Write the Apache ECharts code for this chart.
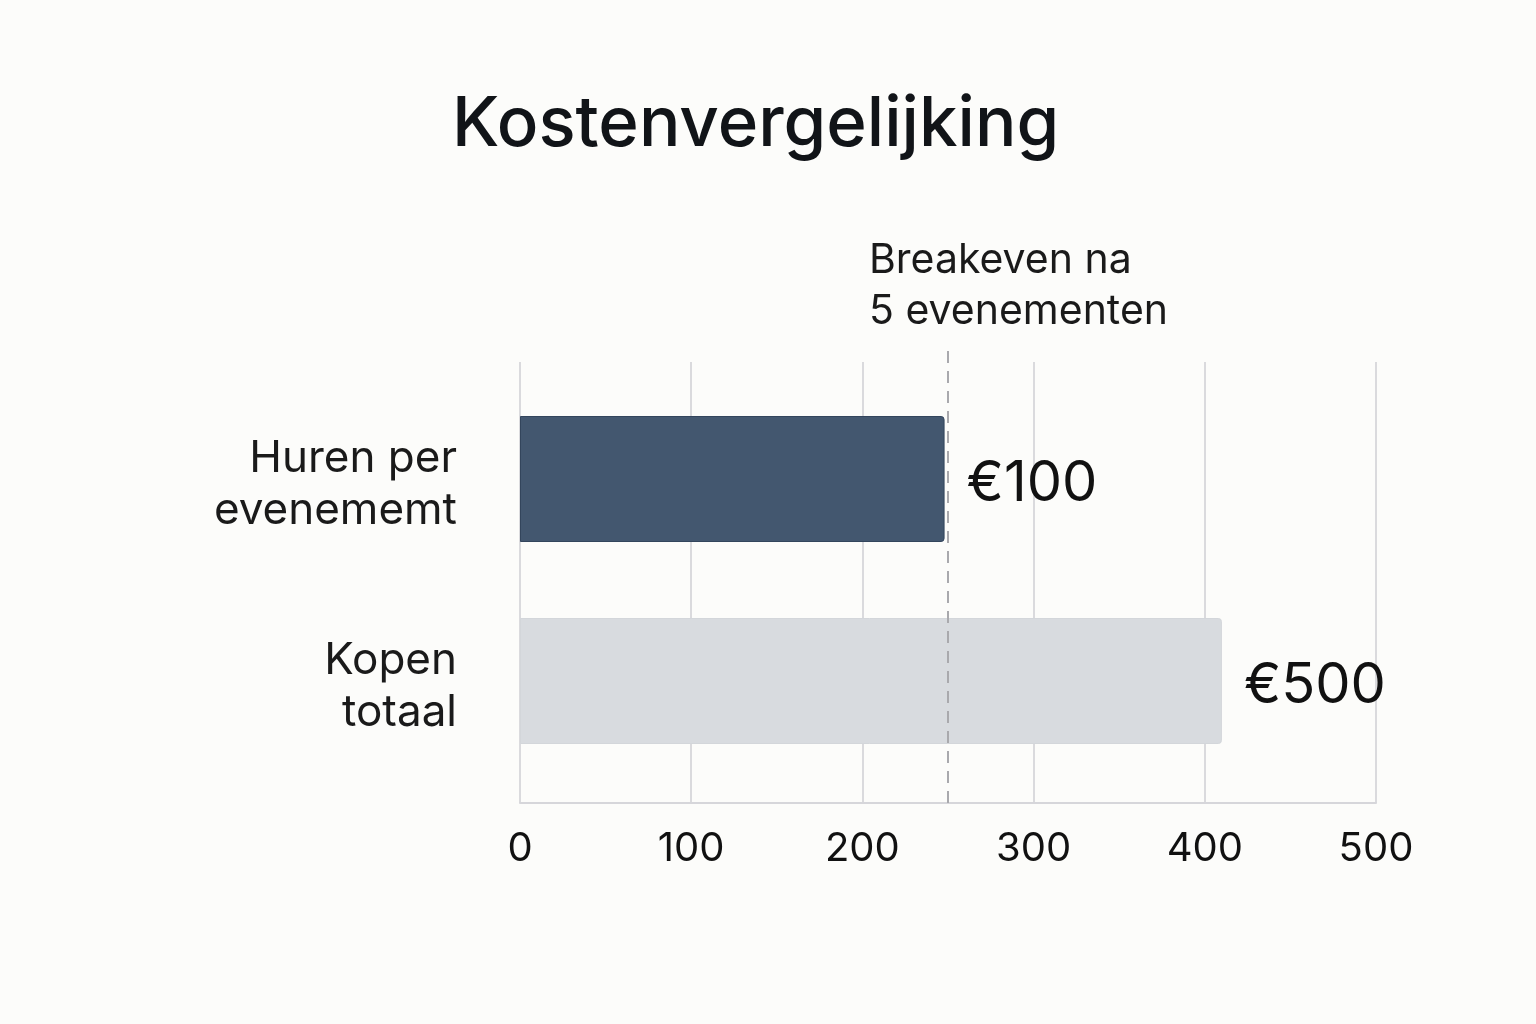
<!DOCTYPE html>
<html>
<head>
<meta charset="utf-8">
<script src="https://cdn.jsdelivr.net/npm/echarts@6/dist/echarts.min.js"></script>
<style>
html,body{margin:0;padding:0;background:#fcfcfa;}
#c{width:1536px;height:1024px;}
</style>
</head>
<body>
<div id="c"></div>
<script>
const categories = ['Huren per\nevenememt', 'Kopen\ntotaal'];
const barValues = [248, 410];
const barLabels = ['€100', '€500'];
const barColors = ['#43576f', '#d8dbdf'];
const breakevenValue = 250;
const breakevenText = 'Breakeven na\n5 evenementen';
const titleText = 'Kostenvergelijking';
const axisMin = 0, axisMax = 500, axisStep = 100;

const FONT = 'Inter, "Noto Sans", sans-serif';
const chart = echarts.init(document.getElementById('c'));
chart.setOption({
  backgroundColor: '#fcfcfa',
  animation: false,
  title: [
    { text: titleText, left: 447, top: 86,
      textStyle: { fontFamily: FONT, fontSize: 69, fontWeight: 500, color: '#111418' } },
    { text: breakevenText, left: 864, top: 230,
      textStyle: { fontFamily: FONT, fontSize: 41, fontWeight: 400, color: '#1a1a1a', lineHeight: 51 } }
  ],
  grid: [
    { left: 520, right: 160, top: 362, bottom: 221 },
    { left: 520, right: 160, top: 378, bottom: 242 },
    { left: 520, right: 160, top: 348, bottom: 221 }
  ],
  xAxis: [
    { gridIndex: 0, type: 'value', min: axisMin, max: axisMax, interval: axisStep,
      axisLine: { show: true, lineStyle: { color: '#d6d6da', width: 2 } },
      axisTick: { show: false },
      splitLine: { show: true, lineStyle: { color: '#dadadd', width: 2 } },
      axisLabel: { margin: 26, fontFamily: FONT, fontSize: 40, color: '#111' } },
    { gridIndex: 1, type: 'value', min: axisMin, max: axisMax, show: false },
    { gridIndex: 2, type: 'value', min: axisMin, max: axisMax, show: false }
  ],
  yAxis: [
    { gridIndex: 0, type: 'value', show: false, min: 0, max: 1 },
    { gridIndex: 1, type: 'category', data: categories, inverse: true,
      axisLine: { show: false }, axisTick: { show: false }, splitLine: { show: false },
      axisLabel: { margin: 63, align: 'right',
        formatter: v => v.split('\n').map(s => '{a|' + s + '}').join('\n'),
        rich: {
          a: { fontFamily: FONT, fontSize: 44, lineHeight: 52, color: '#1a1a1a', padding: [12, 0, 0, 0], align: 'right' }
        } } },
    { gridIndex: 2, type: 'value', show: false, min: 0, max: 1 }
  ],
  series: [
    { type: 'bar', xAxisIndex: 1, yAxisIndex: 1, barWidth: 126,
      data: barValues.map((v, i) => ({
        value: v,
        itemStyle: { color: barColors[i], borderRadius: [0, 3, 3, 0],
          borderColor: i === 0 ? '#33455c' : '#d3d6da', borderWidth: 1 }
      })),
      label: { show: true, position: 'right', distance: 22, offset: [0, 5],
        formatter: p => barLabels[p.dataIndex],
        fontFamily: FONT, fontSize: 56, fontWeight: 400, color: '#111' },
      z: 3
    },
    { type: 'line', xAxisIndex: 2, yAxisIndex: 2, data: [], silent: true,
      markLine: { symbol: 'none', silent: true, label: { show: false },
        lineStyle: { type: [12, 8], color: '#a9a9ad', width: 2 },
        data: [{ xAxis: breakevenValue }] },
      z: 4
    }
  ]
});
</script>
</body>
</html>
